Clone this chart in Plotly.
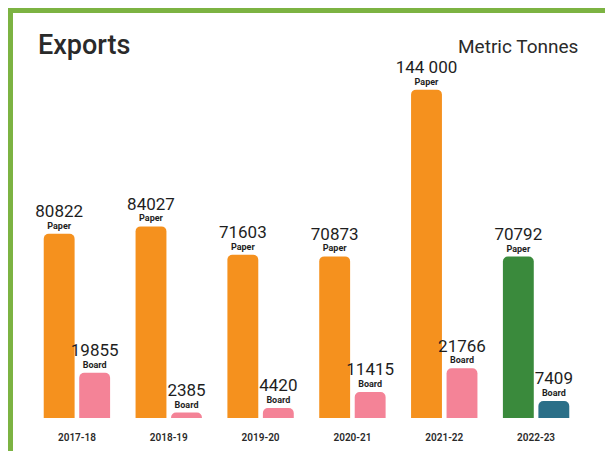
import plotly.graph_objects as go

years = ["2017-18", "2018-19", "2019-20", "2020-21", "2021-22", "2022-23"]
paper = [80822, 84027, 71603, 70873, 144000, 70792]
board = [19855, 2385, 4420, 11415, 21766, 7409]
paper_labels = ["80822", "84027", "71603", "70873", "144 000", "70792"]
board_labels = ["19855", "2385", "4420", "11415", "21766", "7409"]

paper_colors = ["#f5911e"] * 5 + ["#3a8a3c"]
board_colors = ["#f48397"] * 5 + ["#2b6f88"]

W, H = 613, 451
OFF = 8  # page offset of the figure inside the window
# plot area in window pixels: x 31..582, y 60..418
ml = 31 - OFF
mr = W - (582 - OFF)
mt = 60 - OFF
mb = H - (418 - OFF)
pw, ph = W - ml - mr, H - mt - mb

def px_x(p):
    return (p - OFF - ml) / pw

def px_y(p):
    return (H - mb - (p - OFF)) / ph

fig = go.Figure()
for vals, labels, cols, nm in [(paper, paper_labels, paper_colors, "Paper"),
                               (board, board_labels, board_colors, "Board")]:
    fig.add_trace(go.Bar(
        x=years, y=vals, name=nm,
        marker=dict(color=cols, line=dict(width=0)),
        text=[f"<span style='font-size:17px'>{t}</span><br><b>{nm}</b>" for t in labels],
        textposition="outside", cliponaxis=False, constraintext="none",
        textfont=dict(size=9, color="#1e1e1e", family="Roboto"),
        hoverinfo="skip",
    ))

fig.update_layout(
    width=W, height=H,
    margin=dict(l=ml, r=mr, t=mt, b=mb, autoexpand=False),
    paper_bgcolor="#7cb342",
    plot_bgcolor="rgba(0,0,0,0)",
    barmode="group", bargap=0.227, bargroupgap=0.13,
    barcornerradius=5,
    showlegend=False,
    xaxis=dict(showgrid=False, showline=False, ticks="", zeroline=False,
               tickfont=dict(size=10, color="#2a2a2a", family="Roboto", weight=600),
               ticklabelstandoff=12, automargin=False),
    yaxis=dict(visible=False, range=[0, 157000], automargin=False),
    shapes=[dict(type="rect", xref="paper", yref="paper",
                 x0=px_x(13), x1=px_x(W + 20), y0=px_y(H + 20), y1=px_y(13),
                 fillcolor="#ffffff", line=dict(width=0), layer="below")],
    annotations=[
        dict(text="Exports", xref="paper", yref="paper", x=px_x(36), y=px_y(45),
             xanchor="left", yanchor="middle", showarrow=False,
             font=dict(size=27, color="#2a2a2a", family="Roboto", weight=500)),
        dict(text="Metric Tonnes", xref="paper", yref="paper", x=px_x(580), y=px_y(46),
             xanchor="right", yanchor="middle", showarrow=False,
             font=dict(size=19, color="#2a2a2a", family="Roboto")),
    ],
)

fig.write_html("out.html")
